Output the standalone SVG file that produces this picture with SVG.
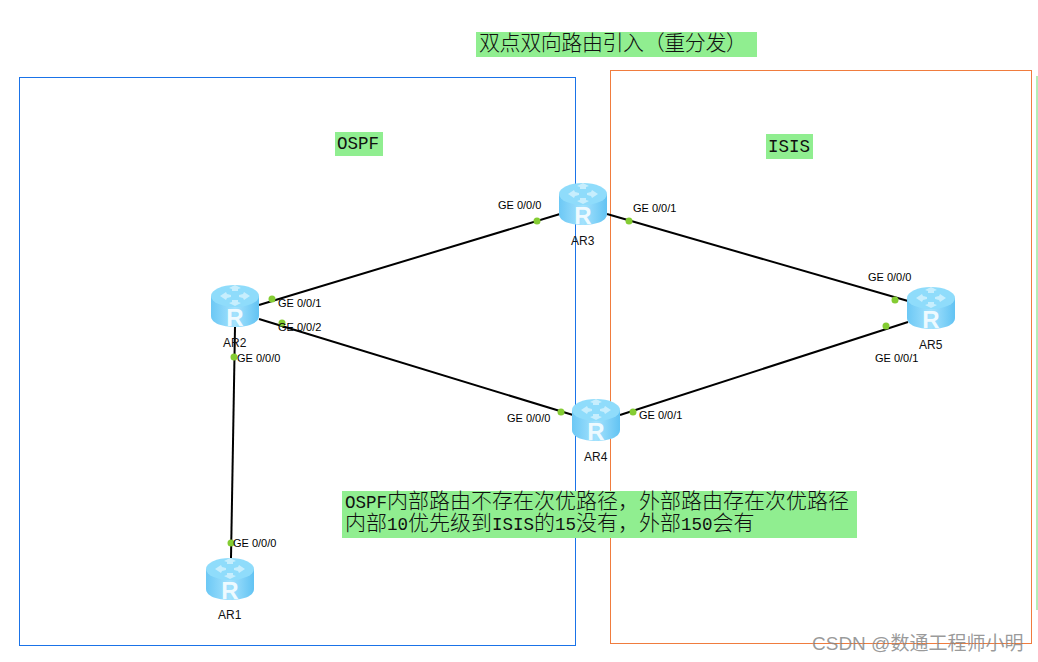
<svg xmlns="http://www.w3.org/2000/svg" width="1038" height="662" viewBox="0 0 1038 662">
<style>
.hl{fill:#90ee90}
.t{font-family:"Noto Sans CJK SC","Liberation Mono",monospace;fill:#111;font-size:21px;font-weight:300}
.m{font-family:"Liberation Mono","Noto Sans CJK SC",monospace;font-size:17.5px;font-weight:400;fill:#111}
.l{font-family:"Liberation Sans",Arial,sans-serif;font-size:11px;fill:#000}
.n{font-family:"Liberation Sans",Arial,sans-serif;font-size:12px;fill:#111}
.c{stroke:#000;stroke-width:2;fill:none}
.d{fill:#84cc33}
.box{fill:none;stroke-width:1}
</style>
<defs>
<linearGradient id="body" x1="0" x2="1" y1="0" y2="0">
<stop offset="0" stop-color="#6cc8f5"/><stop offset=".5" stop-color="#a4e2fd"/><stop offset="1" stop-color="#62c3f3"/>
</linearGradient>
<g id="router">
<path d="M-24-10V10C-24 17-13 21 0 21S24 17 24 10V-10Z" fill="url(#body)"/>
<ellipse cx="0" cy="-10" rx="24" ry="11" fill="#8fdcfb"/>
<path d="M-6-18l6-3 6 3-3 1 0 2h-6l0-2zM-15-10l6-4 1 2 4 1v2l-4 1-1 2zM15-10l-6-4-1 2-4 1v2l4 1 1 2zM-6-3l3-1 0-2h6l0 2 3 1-6 3z" fill="#cdeffd" opacity=".9"/>
<text x="0" y="20" text-anchor="middle" font-family="Liberation Sans,Arial,sans-serif" font-weight="bold" font-size="24" fill="#eefaff">R</text>
</g>
</defs>
<rect class="box" x="19.5" y="77.5" width="556" height="568" stroke="#1a73e8"/>
<rect class="box" x="610.5" y="70.5" width="421" height="573" stroke="#f07c3e"/>
<rect x="1036" y="76" width="2" height="534" fill="#b5efb5"/>

<g id="connectors">
<path class="c" d="M259 305L560 214"/>
<path class="c" d="M607 214L908 301"/>
<path class="c" d="M259 319L573 415"/>
<path class="c" d="M620 415L908 322"/>
<path class="c" d="M235 327L231 558"/>
</g>

<g id="AR1"><use href="#router" x="230" y="579"/><text class="n" x="218" y="619">AR1</text><circle class="d" cx="231" cy="543" r="3.5"/><text class="l" x="233" y="547">GE 0/0/0</text></g>
<g id="AR2"><use href="#router" x="235" y="306"/><text class="n" x="223" y="347">AR2</text>
<circle class="d" cx="272" cy="299" r="3.5"/><text class="l" x="278" y="307">GE 0/0/1</text>
<circle class="d" cx="282" cy="323" r="3.5"/><text class="l" x="278" y="331">GE 0/0/2</text>
<circle class="d" cx="234" cy="357" r="3.5"/><text class="l" x="237" y="362">GE 0/0/0</text></g>
<g id="AR3"><use href="#router" x="583" y="204"/><text class="n" x="571" y="245">AR3</text>
<circle class="d" cx="537" cy="221" r="3.5"/><text class="l" x="498" y="209">GE 0/0/0</text>
<circle class="d" cx="629" cy="221" r="3.5"/><text class="l" x="633" y="212">GE 0/0/1</text></g>
<g id="AR4"><use href="#router" x="596" y="420"/><text class="n" x="584" y="461">AR4</text>
<circle class="d" cx="561" cy="412" r="3.5"/><text class="l" x="507" y="422">GE 0/0/0</text>
<circle class="d" cx="633" cy="412" r="3.5"/><text class="l" x="639" y="419">GE 0/0/1</text></g>
<g id="AR5"><use href="#router" x="931" y="308"/><text class="n" x="919" y="349">AR5</text>
<circle class="d" cx="895" cy="300" r="3.5"/><text class="l" x="868" y="281">GE 0/0/0</text>
<circle class="d" cx="886" cy="326" r="3.5"/><text class="l" x="875" y="362">GE 0/0/1</text></g>

<g id="title"><rect class="hl" x="476" y="32" width="281" height="25"/><text class="t" x="479" y="50" textLength="268">双点双向路由引入（重分发）</text></g>
<g id="ospf"><rect class="hl" x="335" y="132" width="48" height="24"/><text class="m" x="337" y="149">OSPF</text></g>
<g id="isis"><rect class="hl" x="766" y="134" width="47" height="25"/><text class="m" x="768" y="152">ISIS</text></g>
<g id="note"><rect class="hl" x="342" y="491" width="515" height="47"/>
<text class="t" x="345" y="508"><tspan class="m">OSPF</tspan>内部路由不存在次优路径，外部路由存在次优路径</text>
<text class="t" x="345" y="530">内部<tspan class="m">10</tspan>优先级到<tspan class="m">ISIS</tspan>的<tspan class="m">15</tspan>没有，外部<tspan class="m">150</tspan>会有</text></g>
<text x="812" y="650" font-family="Liberation Sans,Noto Sans CJK SC,sans-serif" font-size="19" fill="#888" fill-opacity=".85">CSDN @数通工程师小明</text>
</svg>
